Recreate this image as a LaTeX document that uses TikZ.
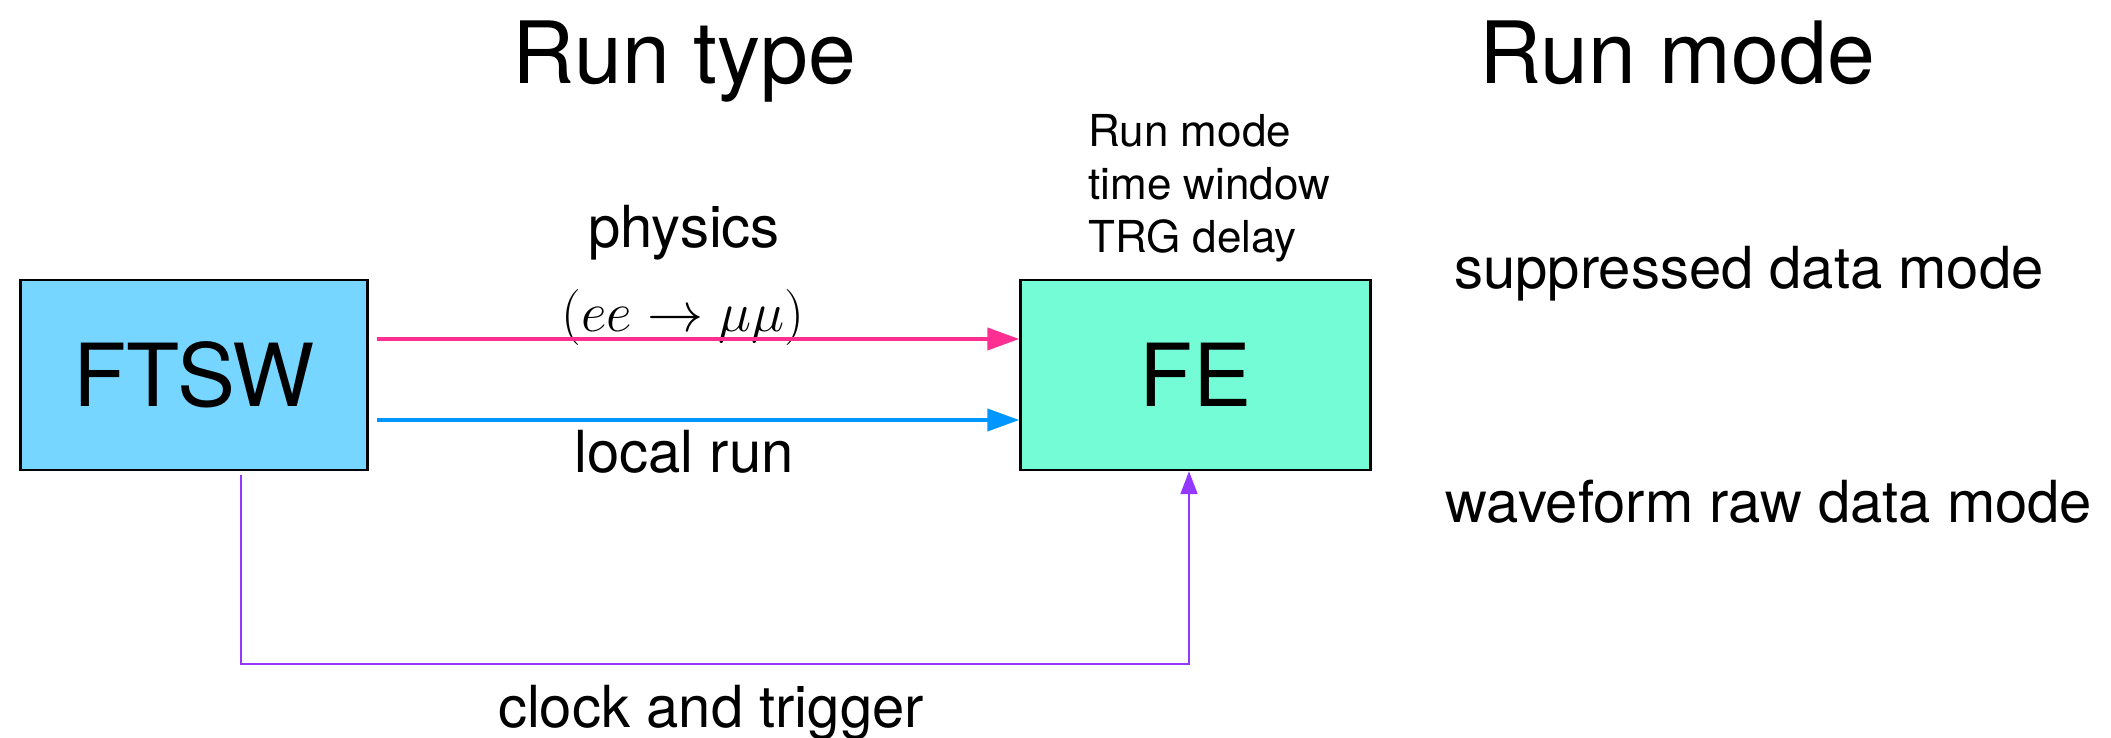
\documentclass[tikz,border=0pt]{standalone}
\usepackage{fix-cm}
\usepackage[no-math]{fontspec}
\setmainfont{TeX Gyre Heros}
\usetikzlibrary{arrows.meta}
\definecolor{ftswblue}{HTML}{76D6FF}
\definecolor{fegreen}{HTML}{73FCD6}
\definecolor{pinkarr}{HTML}{FF2F92}
\definecolor{bluearr}{HTML}{0096FF}
\definecolor{purplearr}{HTML}{9437FF}
\begin{document}
\begin{tikzpicture}[x=0.5pt,y=-0.5pt,
  box/.style={draw=black,line width=1.2pt,minimum height=95pt,inner sep=0pt,
    font=\fontsize{43.5}{50}\selectfont},
  title/.style={anchor=base,inner sep=0pt,font=\fontsize{43}{50}\selectfont},
  lbl/.style={anchor=base,inner sep=0pt,font=\fontsize{29}{34}\selectfont},
  small/.style={anchor=base west,inner sep=0pt,font=\fontsize{22}{26}\selectfont},
  thick arrow/.style={line width=2pt,shorten <=4pt,-{Triangle[length=16pt,width=11pt]}},
  thin arrow/.style={line width=1pt,shorten <=2pt,-{Triangle[length=11.5pt,width=8.5pt]}}]
\useasboundingbox (0,0) rectangle (2111,738);

\node[box,fill=ftswblue,minimum width=173.5pt] (ftsw) at (194,375) {FTSW};
\node[box,fill=fegreen,minimum width=175pt] (fe) at (1195.5,375) {FE};

\node[title] (runtype) at (684.6,83.5) {Run type};
\node[title] (runmode) at (1677,83.5) {Run mode};

\node[lbl] (physics) at (684,248) {physics};
\node[anchor=base,inner sep=0pt,font=\fontsize{28}{33}\selectfont] (process) at (683,331) {$(ee\to\mu\mu)$};
\node[lbl] (localrun) at (684,472) {local run};
\node[lbl] (clock) at (711,727) {clock and trigger};

\node[small] (p1) at (1088,146.7) {Run mode};
\node[small] (p2) at (1088,199) {time window};
\node[small] (p3) at (1088,252) {TRG delay};

\node[lbl] (supp) at (1749,288) {suppressed data mode};
\node[lbl] (wave) at (1769,522) {waveform raw data mode};

\draw[pinkarr,thick arrow] (ftsw.east |- 0,339) -- (fe.west |- 0,339);
\draw[bluearr,thick arrow] (ftsw.east |- 0,420) -- (fe.west |- 0,420);

\coordinate (cl) at (241,664);
\coordinate (cr) at (1189,664);
\draw[purplearr,thin arrow] (ftsw.south -| cl) -- (cl) -- (cr) -- (fe.south -| cr);
\end{tikzpicture}
\end{document}
